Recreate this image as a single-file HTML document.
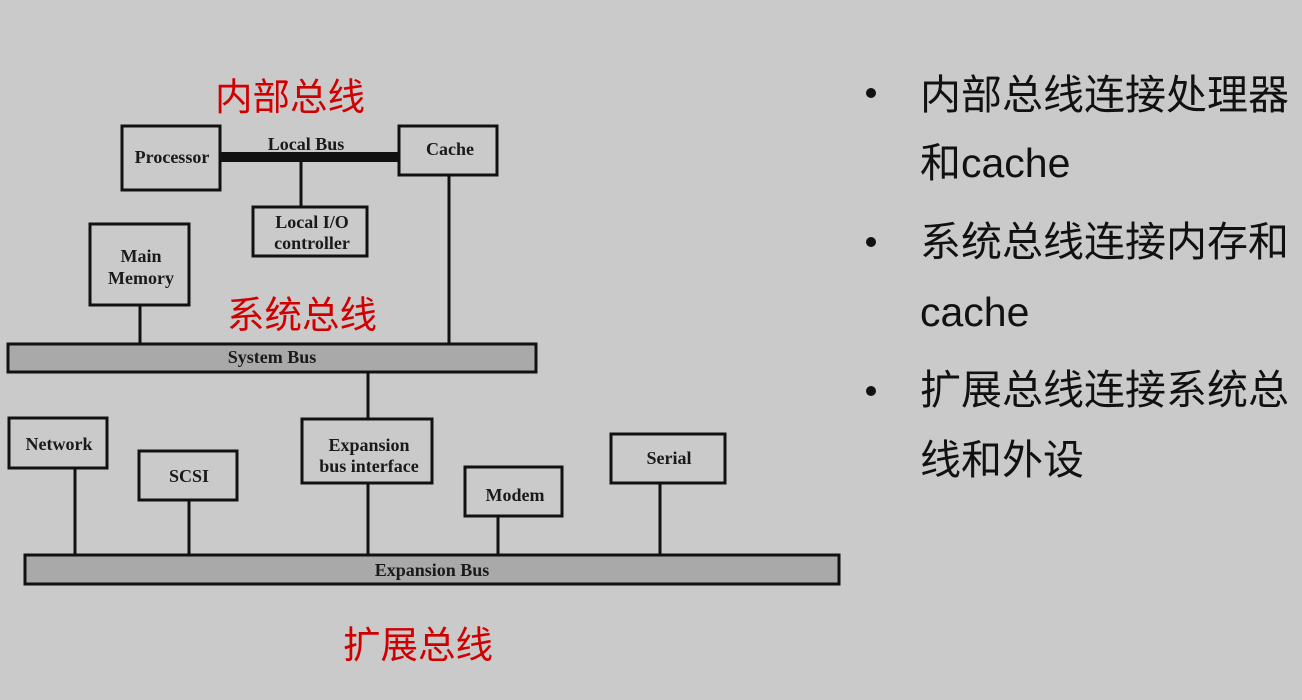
<!DOCTYPE html>
<html><head><meta charset="utf-8"><style>
html,body{margin:0;padding:0;background:#cacaca;}
body{width:1302px;height:700px;position:relative;overflow:hidden;}
svg{position:absolute;left:0;top:0;}
.t{font-family:"Liberation Serif",serif;font-weight:bold;font-size:18px;fill:#1a1a1a;}
.r{font-family:"Liberation Sans","Noto Sans CJK SC",sans-serif;font-size:37.5px;fill:#d00000;}
.b{position:absolute;font-family:"Liberation Sans","Noto Sans CJK SC",sans-serif;font-size:41px;color:#111;line-height:1;white-space:nowrap;}
.dot{position:absolute;left:866px;width:10px;height:10px;border-radius:5px;background:#111;}
</style></head><body>
<svg width="1302" height="700" viewBox="0 0 1302 700">
<g stroke="#111" stroke-width="3" fill="none">
<line x1="301" y1="160" x2="301" y2="207"/>
<line x1="449" y1="175" x2="449" y2="344"/>
<line x1="140" y1="305" x2="140" y2="344"/>
<line x1="368" y1="372" x2="368" y2="418"/>
<line x1="75" y1="468" x2="75" y2="555"/>
<line x1="189" y1="500" x2="189" y2="555"/>
<line x1="368" y1="483" x2="368" y2="555"/>
<line x1="498" y1="516" x2="498" y2="555"/>
<line x1="660" y1="483" x2="660" y2="555"/>
</g>
<rect x="220" y="152" width="180" height="10" fill="#111"/>
<g stroke="#111" stroke-width="3" fill="#cacaca">
<rect x="122" y="126" width="98" height="64"/>
<rect x="399" y="126" width="98" height="49"/>
<rect x="253" y="207" width="114" height="49"/>
<rect x="90" y="224" width="99" height="81"/>
<rect x="9" y="418" width="98" height="50"/>
<rect x="139" y="451" width="98" height="49"/>
<rect x="302" y="419" width="130" height="64"/>
<rect x="465" y="467" width="97" height="49"/>
<rect x="611" y="434" width="114" height="49"/>
</g>
<g stroke="#111" stroke-width="3" fill="#a9a9a9">
<rect x="8" y="344" width="528" height="28"/>
<rect x="25" y="555" width="814" height="29"/>
</g>
<g class="t" text-anchor="middle">
<text x="172" y="163">Processor</text>
<text x="306" y="150">Local Bus</text>
<text x="450" y="155">Cache</text>
<text x="312" y="228">Local I/O</text>
<text x="312" y="249">controller</text>
<text x="141" y="262">Main</text>
<text x="141" y="284">Memory</text>
<text x="272" y="363">System Bus</text>
<text x="59" y="450">Network</text>
<text x="189" y="482">SCSI</text>
<text x="369" y="451">Expansion</text>
<text x="369" y="472">bus interface</text>
<text x="515" y="501">Modem</text>
<text x="669" y="464">Serial</text>
<text x="432" y="576">Expansion Bus</text>
</g>
<text class="r" x="215" y="110">内部总线</text>
<text class="r" x="227" y="328">系统总线</text>
<text class="r" x="343" y="658">扩展总线</text>
</svg>
<div class="dot" style="top:88px"></div>
<div class="dot" style="top:237px"></div>
<div class="dot" style="top:386px"></div>
<div class="b" style="left:920px;top:75px">内部总线连接处理器</div>
<div class="b" style="left:920px;top:143px">和cache</div>
<div class="b" style="left:920px;top:222px">系统总线连接内存和</div>
<div class="b" style="left:920px;top:292px">cache</div>
<div class="b" style="left:920px;top:370px">扩展总线连接系统总</div>
<div class="b" style="left:920px;top:440px">线和外设</div>
</body></html>
